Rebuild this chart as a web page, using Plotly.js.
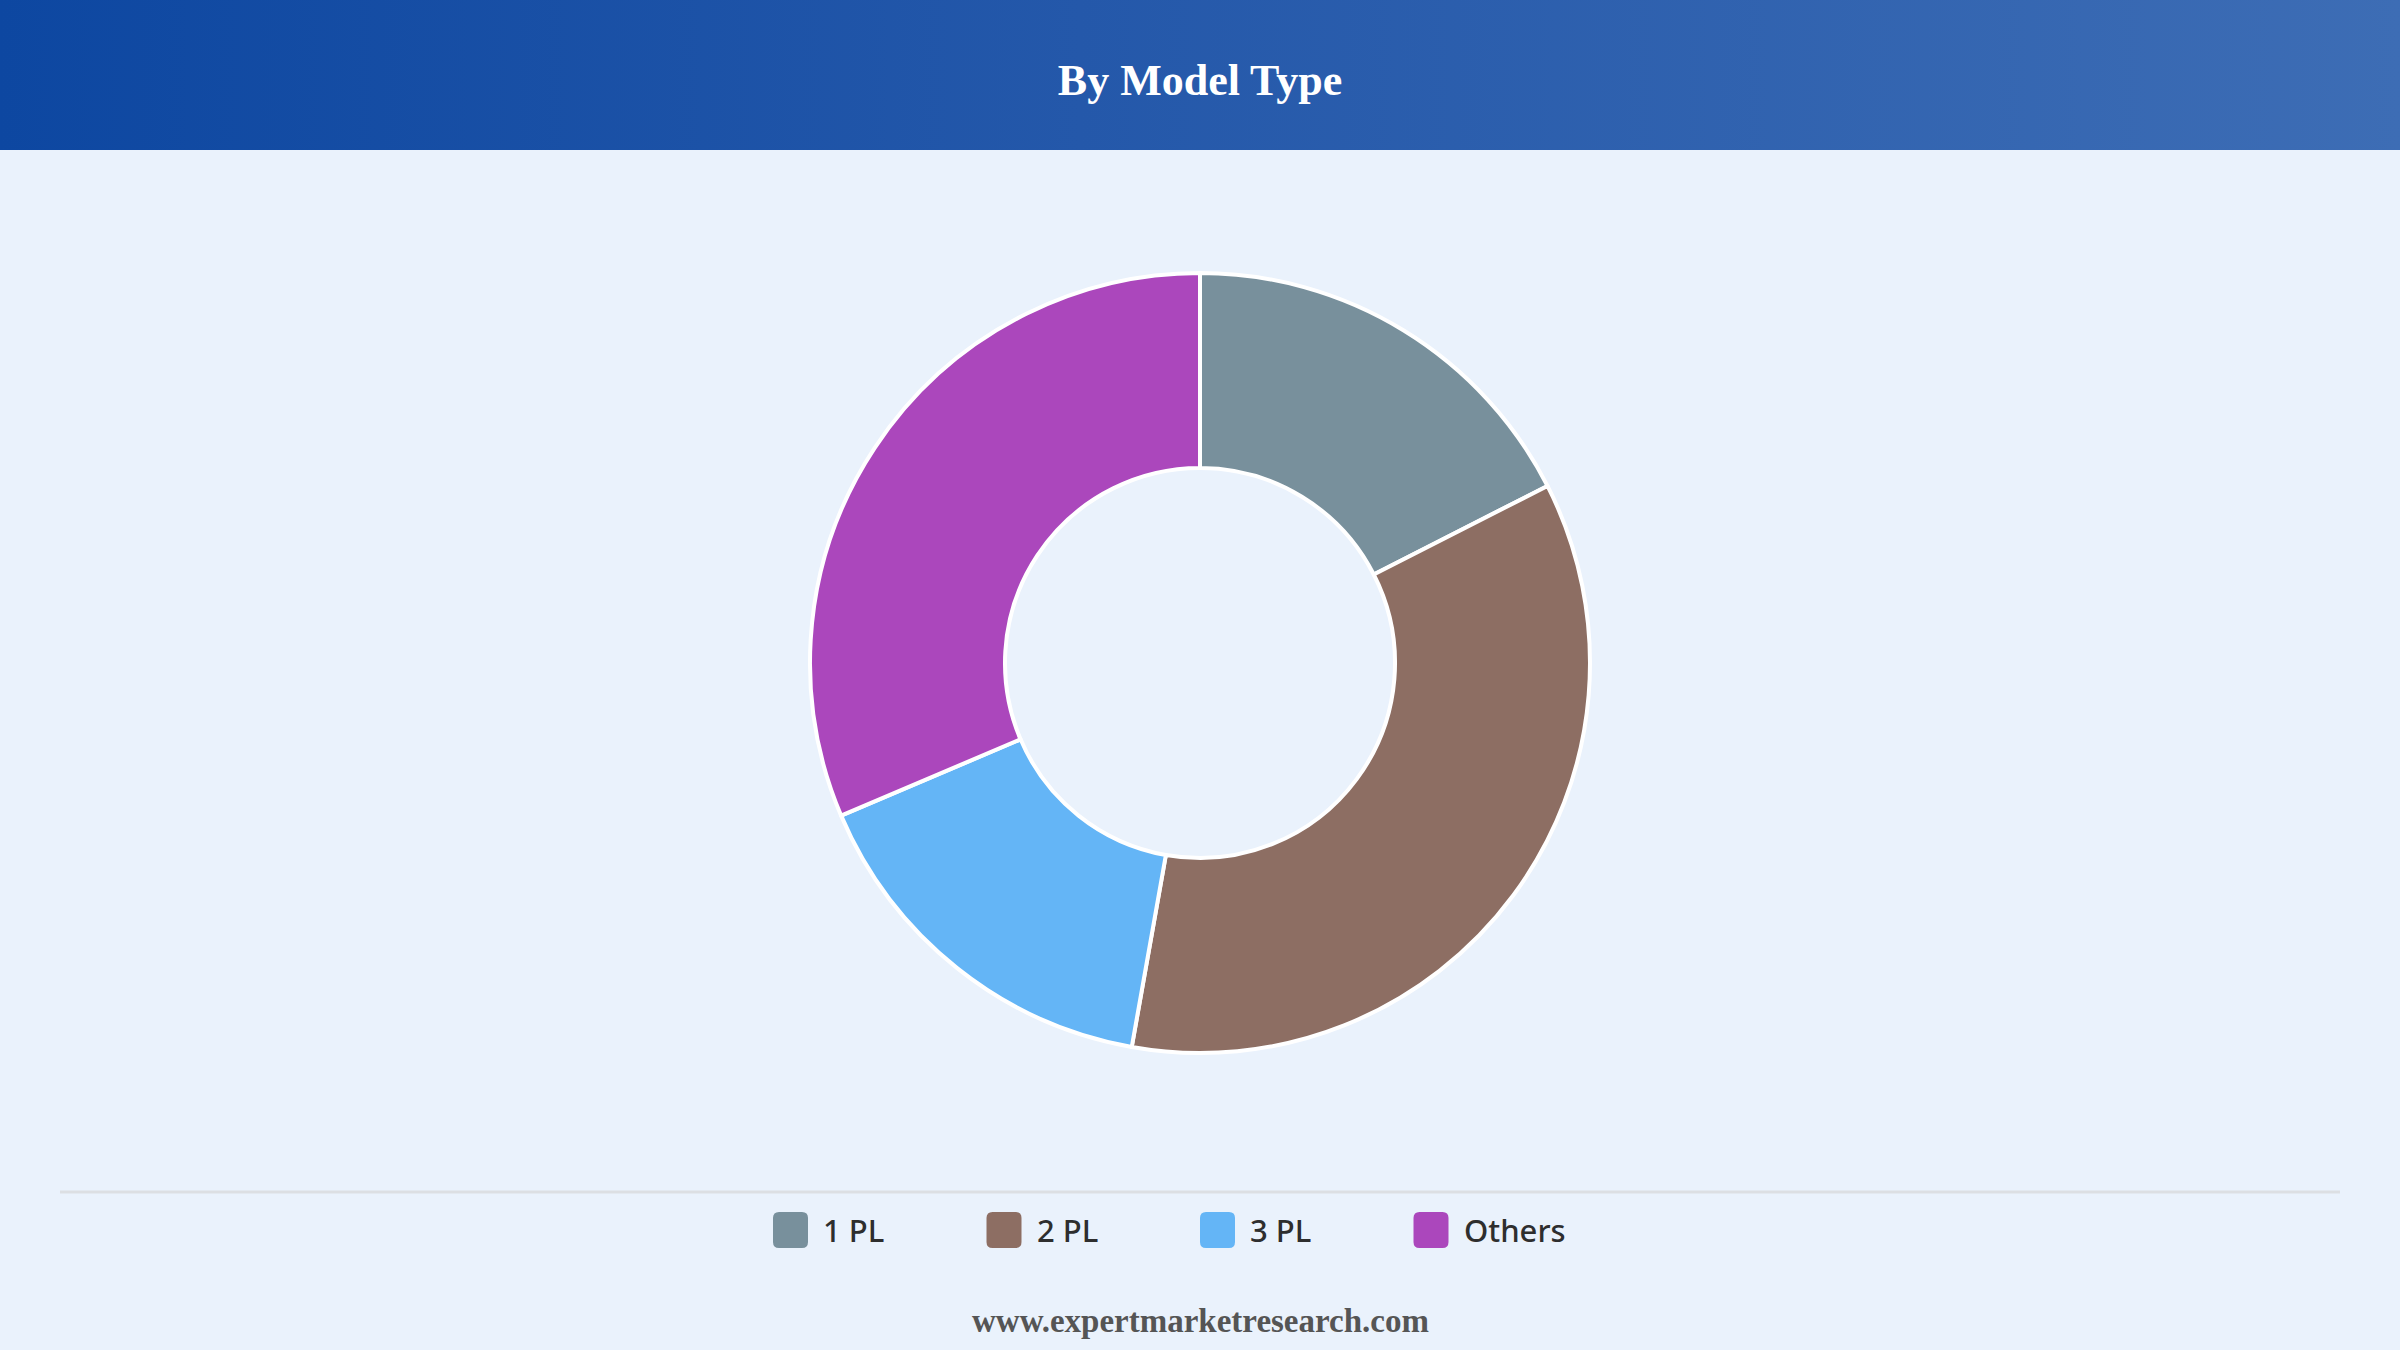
<!DOCTYPE html>
<html>
<head>
<meta charset="utf-8">
<script src="https://cdn.plot.ly/plotly-3.0.1.min.js"></script>
<style>
  html, body { margin: 0; padding: 0; width: 2400px; height: 1350px; overflow: hidden; background: #EAF2FC; }
  #header { position: absolute; left: 0; top: 0; width: 2400px; height: 150px;
            background: linear-gradient(to right, #0D47A1 0%, #2458AA 45%, #3D6DB5 100%); }
  #chart { position: absolute; left: 0; top: 0; width: 2400px; height: 1350px; }
</style>
</head>
<body>
<div id="header"></div>
<div id="chart"></div>
<script>
const categories = ["1 PL", "2 PL", "3 PL", "Others"];
const values = [17.5, 35.3, 15.8, 31.4];
const colors = ["#78909C", "#8D6E63", "#64B5F6", "#AB47BC"];
const titleText = "By Model Type";
const footerText = "www.expertmarketresearch.com";

const W = 2400, H = 1350;

const trace = {
  type: "pie",
  labels: categories,
  values: values,
  hole: 0.5,
  sort: false,
  direction: "clockwise",
  rotation: 0,
  marker: { colors: colors, line: { color: "#FFFFFF", width: 4 } },
  textinfo: "none",
  hoverinfo: "label+percent",
  showlegend: false,
  domain: { x: [0.3375, 0.6625], y: [1 - 1053 / H, 1 - 273 / H] }
};

// custom legend built from categories
const shapes = [];
const annotations = [];
const legendY = 1230;       // px from top
const startX = 773;         // px of first swatch
const step = 213.5;
const sw = 35, sh = 36, r = 6;
categories.forEach((c, i) => {
  const x0 = startX + i * step, x1 = x0 + sw;
  const yt = legendY - sh / 2, yb = legendY + sh / 2;
  const px = v => v / W, py = v => 1 - v / H;
  const path = `M ${px(x0 + r)} ${py(yt)} L ${px(x1 - r)} ${py(yt)} Q ${px(x1)} ${py(yt)} ${px(x1)} ${py(yt + r)} ` +
               `L ${px(x1)} ${py(yb - r)} Q ${px(x1)} ${py(yb)} ${px(x1 - r)} ${py(yb)} ` +
               `L ${px(x0 + r)} ${py(yb)} Q ${px(x0)} ${py(yb)} ${px(x0)} ${py(yb - r)} ` +
               `L ${px(x0)} ${py(yt + r)} Q ${px(x0)} ${py(yt)} ${px(x0 + r)} ${py(yt)} Z`;
  shapes.push({ type: "path", xref: "paper", yref: "paper", path: path,
                fillcolor: colors[i], line: { width: 0 } });
  annotations.push({ xref: "paper", yref: "paper", x: (x1 + 13) / W, y: 1 - legendY / H,
                     xanchor: "left", yanchor: "middle", showarrow: false, text: c,
                     font: { family: "Noto Sans, Open Sans, sans-serif", size: 31, color: "#2E2E2E", weight: 500 } });
});

// separator line
shapes.push({ type: "line", xref: "paper", yref: "paper", x0: 60 / W, x1: 2340 / W,
              y0: 1 - 1192 / H, y1: 1 - 1192 / H, line: { color: "#DCDFE3", width: 3 } });

// footer
annotations.push({ xref: "paper", yref: "paper", x: 0.5, y: 1 - 1321 / H, xanchor: "center", yanchor: "middle",
                   showarrow: false, text: "<b>" + footerText + "</b>",
                   font: { family: "Liberation Serif, Times New Roman, serif", size: 33, color: "#555555" } });

const layout = {
  width: W, height: H,
  margin: { l: 0, r: 0, t: 0, b: 0 },
  paper_bgcolor: "rgba(0,0,0,0)",
  plot_bgcolor: "rgba(0,0,0,0)",
  title: { text: "<b>" + titleText + "</b>", x: 0.5, xanchor: "center", y: 1 - 80 / H, yanchor: "middle",
           font: { family: "Liberation Serif, Times New Roman, serif", size: 44, color: "#FFFFFF" } },
  shapes: shapes,
  annotations: annotations,
  showlegend: false
};

Plotly.newPlot("chart", [trace], layout, { displayModeBar: false });
</script>
</body>
</html>
